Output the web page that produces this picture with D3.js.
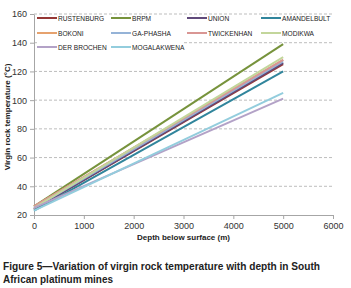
<!DOCTYPE html>
<html>
<head>
<meta charset="utf-8">
<script src="https://cdn.jsdelivr.net/npm/d3@7"></script>
<style>
  body { margin: 0; background: #fff; }
  svg { display: block; font-family: "Liberation Sans", Arial, sans-serif; }
</style>
</head>
<body>
<div id="chart"></div>
<script>
// depth points (m)
const depths = [0, 5000]
const mines = ["RUSTENBURG", "BRPM", "UNION", "AMANDELBULT", "BOKONI", "GA-PHASHA", "TWICKENHAN", "MODIKWA", "DER BROCHEN", "MOGALAKWENA"]
// temperature (deg C) at each depth
const rustenburg = [24, 125]
const brpm = [26, 139]
const union = [24, 126]
const amandelbult = [23, 120]
const bokoni = [26, 128]
const gaphasha = [25, 127]
const twickenhan = [26, 128]
const modikwa = [25, 130]
const derbrochen = [25, 101]
const mogalakwena = [23, 105]
const xTicks = [0, 1000, 2000, 3000, 4000, 5000, 6000]
const yTicks = [20, 40, 60, 80, 100, 120, 140, 160]

const seriesVals = [rustenburg, brpm, union, amandelbult, bokoni, gaphasha, twickenhan, modikwa, derbrochen, mogalakwena]
const colors = ["#953735", "#77933c", "#604a7b", "#31859c", "#e6a26e", "#95b3d7", "#d99694", "#c3d69b", "#b3a2c7", "#93cddd"]

const W = 351, H = 288
const x0 = 34, x1 = 333, yTop = 14, yBot = 215

const svg = d3.select("#chart").append("svg").attr("width", W).attr("height", H)

let xScale = d3.scaleLinear().domain([0, 6000]).range([x0, x1])
let yScale = d3.scaleLinear().domain([20, 160]).range([yBot, yTop])

// gridlines
svg.append("g").selectAll("line").data(yTicks.slice(1)).enter().append("line")
  .attr("x1", x0).attr("x2", x1)
  .attr("y1", d => yScale(d)).attr("y2", d => yScale(d))
  .attr("stroke", "#bdbdbd").attr("stroke-width", 1).attr("stroke-dasharray", "3,2")

// axes
let xAxis = svg.append("g").attr("transform", "translate(0," + yBot + ")")
  .call(d3.axisBottom(xScale).tickValues(xTicks).tickSize(4).tickSizeOuter(0).tickFormat(d3.format("d")))
let yAxis = svg.append("g").attr("transform", "translate(" + x0 + ",0)")
  .call(d3.axisLeft(yScale).tickValues(yTicks).tickSize(4).tickSizeOuter(0))
for (const ax of [xAxis, yAxis]) {
  ax.select(".domain").attr("stroke", "#a6a6a6")
  ax.selectAll(".tick line").attr("stroke", "#a6a6a6")
  ax.selectAll(".tick text").attr("fill", "#333").style("font-size", "9px").style("font-family", "Liberation Sans, Arial, sans-serif")
}
yAxis.selectAll(".tick text").attr("x", -7)
xAxis.selectAll(".tick text").attr("y", 8)

// lines
let line = d3.line().x(d => xScale(d[0])).y(d => yScale(d[1]))
seriesVals.forEach((vals, i) => {
  let pts = depths.map((d, j) => [d, vals[j]])
  svg.append("path").datum(pts)
    .attr("d", line)
    .attr("fill", "none")
    .attr("stroke", colors[i])
    .attr("stroke-width", 2)
})

// legend
svg.append("rect").attr("x", 37).attr("y", 15).attr("width", 296).attr("height", 26).attr("fill", "#fff")
svg.append("rect").attr("x", 37).attr("y", 41).attr("width", 146).attr("height", 13).attr("fill", "#fff")
const colX = [37, 111, 187, 261]
const rowY = [18, 33, 47]
mines.forEach((m, i) => {
  let cx = colX[i % 4], cy = rowY[Math.floor(i / 4)]
  svg.append("line").attr("x1", cx).attr("x2", cx + 20).attr("y1", cy).attr("y2", cy)
    .attr("stroke", colors[i]).attr("stroke-width", 2)
  let t = svg.append("text").attr("x", cx + 21).attr("y", cy + 3)
    .text(m).style("font-size", "7.5px").attr("fill", "#222")
  // squeeze a little, the original font is narrower
  let len = t.node().getComputedTextLength()
  t.attr("textLength", len * 0.88).attr("lengthAdjust", "spacingAndGlyphs")
})

// axis titles
svg.append("text").attr("x", 183.5).attr("y", 240).attr("text-anchor", "middle")
  .text("Depth below surface (m)").style("font-size", "8px").style("font-weight", "bold").attr("fill", "#222")
svg.append("text").attr("transform", "translate(10,117)rotate(-90)").attr("text-anchor", "middle")
  .text("Virgin rock temperature (\u00b0C)").style("font-size", "8px").style("font-weight", "bold").attr("fill", "#222")

// caption
svg.append("text").attr("x", 3).attr("y", 270)
  .text("Figure 5\u2014Variation of virgin rock temperature with depth in South")
  .attr("textLength", 317).attr("lengthAdjust", "spacingAndGlyphs")
  .style("font-size", "10.5px").style("font-weight", "bold").attr("fill", "#222")
svg.append("text").attr("x", 3).attr("y", 283)
  .text("African platinum mines")
  .attr("textLength", 110).attr("lengthAdjust", "spacingAndGlyphs")
  .style("font-size", "10.5px").style("font-weight", "bold").attr("fill", "#222")
</script>
</body>
</html>
